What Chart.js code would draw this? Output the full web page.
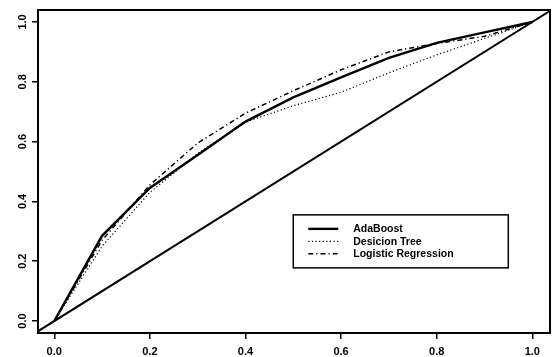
<!DOCTYPE html>
<html>
<head>
<meta charset="utf-8">
<script src="https://cdn.jsdelivr.net/npm/chart.js@4.4.1/dist/chart.umd.min.js"></script>
<style>
  html, body { margin: 0; padding: 0; background: #fff; }
  #wrap { width: 552px; height: 357px; }
</style>
</head>
<body>
<div id="wrap"><canvas id="roc"></canvas></div>
<script>
// datos (tasa de falsos positivos vs verdaderos positivos)
const fpr = [0, 0.1, 0.2, 0.3, 0.4, 0.5, 0.6, 0.7, 0.8, 0.9, 1.0];
const adaBoost = [0, 0.285, 0.445, 0.555, 0.667, 0.748, 0.815, 0.88, 0.93, 0.965, 1.0];
const decisionTree = [0, 0.25, 0.43, 0.56, 0.665, 0.72, 0.765, 0.83, 0.89, 0.945, 1.0];
const logistic = [0, 0.27, 0.455, 0.595, 0.695, 0.77, 0.84, 0.9, 0.928, 0.952, 1.0];
const diagonal = [-0.04, 1.04];
const tickVals = [0, 0.2, 0.4, 0.6, 0.8, 1.0];
const seriesNames = ["AdaBoost", "Desicion Tree", "Logistic Regression"];

const estilos = [[], [1.2, 2.4], [5, 3, 1.2, 3]];
const anchos = [2.4, 1.2, 1.5];

function puntos(xs, ys) {
  return xs.map((x, i) => ({ x: x, y: ys[i] }));
}

// caja y leyenda al estilo R
const cajaPlugin = {
  id: "caja",
  afterDraw(chart) {
    const ctx = chart.ctx;
    const a = chart.chartArea;
    ctx.save();
    ctx.strokeStyle = "#000";
    ctx.lineWidth = 2;
    ctx.strokeRect(a.left, a.top, a.right - a.left, a.bottom - a.top);

    const sx = chart.scales.x;
    const sy = chart.scales.y;
    const lx = sx.getPixelForValue(0.5);
    const ly = sy.getPixelForValue(0.355);
    const w = 215, h = 53;
    ctx.fillStyle = "#fff";
    ctx.fillRect(lx, ly, w, h);
    ctx.lineWidth = 1.5;
    ctx.strokeRect(lx, ly, w, h);

    ctx.font = "bold 10.5px 'Liberation Sans', Arial, sans-serif";
    ctx.textBaseline = "middle";
    ctx.fillStyle = "#000";
    for (let i = 0; i < seriesNames.length; i++) {
      const yy = ly + 14 + i * 12.5;
      ctx.beginPath();
      ctx.setLineDash(estilos[i]);
      ctx.lineWidth = anchos[i];
      ctx.moveTo(lx + 15, yy);
      ctx.lineTo(lx + 45, yy);
      ctx.stroke();
      ctx.setLineDash([]);
      ctx.fillText(seriesNames[i], lx + 60, yy + 0.5);
    }
    ctx.restore();
  }
};

const fuenteTicks = { family: "'Liberation Sans', Arial, sans-serif", size: 11, weight: "bold" };

new Chart(document.getElementById("roc"), {
  type: "line",
  data: {
    datasets: [
      {
        label: seriesNames[0],
        data: puntos(fpr, adaBoost),
        borderColor: "#000",
        borderWidth: anchos[0],
        pointRadius: 0,
        tension: 0
      },
      {
        label: seriesNames[1],
        data: puntos(fpr, decisionTree),
        borderColor: "#000",
        borderWidth: anchos[1],
        borderDash: estilos[1],
        pointRadius: 0,
        tension: 0
      },
      {
        label: seriesNames[2],
        data: puntos(fpr, logistic),
        borderColor: "#000",
        borderWidth: anchos[2],
        borderDash: estilos[2],
        pointRadius: 0,
        tension: 0
      },
      {
        label: "diagonal",
        data: puntos(diagonal, diagonal),
        borderColor: "#000",
        borderWidth: 2,
        pointRadius: 0,
        tension: 0
      }
    ]
  },
  options: {
    responsive: true,
    maintainAspectRatio: false,
    animation: false,
    layout: { padding: { top: 10, right: 2, left: 0, bottom: 0 } },
    plugins: {
      legend: { display: false },
      tooltip: { enabled: false }
    },
    scales: {
      x: {
        type: "linear",
        min: -0.034,
        max: 1.037,
        afterBuildTicks: (scale) => { scale.ticks = tickVals.map(v => ({ value: v })); },
        afterFit: (scale) => { scale.height = 24; },
        ticks: {
          font: fuenteTicks,
          color: "#000",
          padding: 6,
          maxRotation: 0,
          callback: (v) => Number(v).toFixed(1)
        },
        grid: { drawOnChartArea: false, drawTicks: true, tickLength: 6, color: "#000", lineWidth: 1.5 },
        border: { display: false }
      },
      y: {
        type: "linear",
        min: -0.04,
        max: 1.04,
        afterBuildTicks: (scale) => { scale.ticks = tickVals.map(v => ({ value: v })); },
        afterFit: (scale) => { scale.width = 38; },
        ticks: {
          font: fuenteTicks,
          color: "#000",
          padding: 1,
          minRotation: 90,
          maxRotation: 90,
          crossAlign: "center",
          callback: (v) => Number(v).toFixed(1)
        },
        grid: { drawOnChartArea: false, drawTicks: true, tickLength: 6, color: "#000", lineWidth: 1.5 },
        border: { display: false }
      }
    }
  },
  plugins: [cajaPlugin]
});
</script>
</body>
</html>
